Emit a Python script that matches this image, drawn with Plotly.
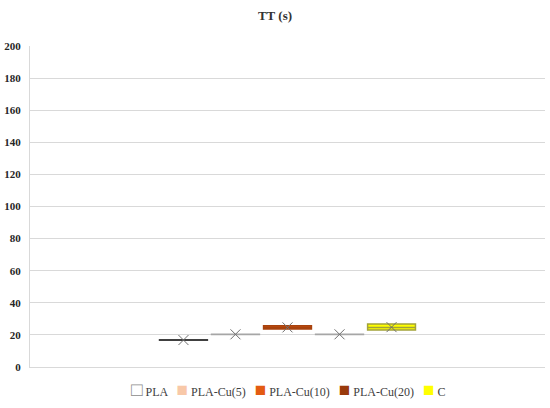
import plotly.graph_objects as go

# Donnees
series = ["PLA", "PLA-Cu(5)", "PLA-Cu(10)", "PLA-Cu(20)", "C"]
pla = [16.6, 16.7, 16.8, 16.9, 17.0]
pla_cu5 = [20.2, 20.3, 20.4, 20.4, 20.5]
pla_cu10 = [23.6, 23.8, 24.6, 25.6, 25.8]
pla_cu20 = [20.2, 20.3, 20.4, 20.4, 20.5]
carbone = [22.9, 23.1, 24.6, 26.7, 26.9]
valeurs = [pla, pla_cu5, pla_cu10, pla_cu20, carbone]

remplissage = ["#ffffff", "#f8c8a8", "#e35b12", "#993a0c", "#ffff00"]
contour = ["#404040", "#a6a6a6", "#a8420d", "#a6a6a6", "#a3a33a"]

police = "Liberation Serif"

fig = go.Figure()
for i, (nom, v) in enumerate(zip(series, valeurs)):
    fig.add_trace(go.Box(
        y=v, x=[i] * len(v), name=nom, width=0.92,
        fillcolor=remplissage[i], line=dict(color=contour[i], width=1.5),
        boxpoints=False, whiskerwidth=0, hoverinfo="y", showlegend=False))
    # moyenne en croix, comme dans Excel
    fig.add_trace(go.Scatter(
        x=[i], y=[sum(v) / len(v)], mode="markers", showlegend=False,
        marker=dict(symbol="x-thin-open", size=10, color="#707070",
                    line=dict(color="#707070", width=1))))

# legende faite a la main (carres serres comme dans Excel)
morceaux = []
for nom, c in zip(series, remplissage):
    if c == "#ffffff":
        carre = '<span style="color:#8c8c8c;font-size:19px">□</span>'
    else:
        carre = '<span style="color:%s;font-size:19px">■</span>' % c
    morceaux.append(carre + " " + nom)
legende = "   ".join(morceaux)

fig.update_layout(
    width=550, height=408,
    paper_bgcolor="white", plot_bgcolor="white",
    font=dict(family=police, size=12, color="#404040"),
    title=dict(text="<b>TT (s)</b>", x=0.5, xanchor="center", y=0.963, yanchor="middle",
               font=dict(family=police, size=13, color="#333333")),
    margin=dict(l=30, r=5, t=46, b=41),
    showlegend=False,
    annotations=[dict(text=legende, xref="paper", yref="paper", x=0.5, y=-0.07,
                      xanchor="center", yanchor="middle", showarrow=False,
                      font=dict(family=police, size=12, color="#404040"))],
)
fig.update_xaxes(range=[-2.95, 6.95], showticklabels=False, showgrid=False,
                 zeroline=False, showline=True, linecolor="#d9d9d9", linewidth=1)
fig.update_yaxes(range=[0, 200], dtick=20, showgrid=True, gridcolor="#d9d9d9", gridwidth=1,
                 zeroline=False, showline=True, linecolor="#d9d9d9", automargin=False,
                 tickfont=dict(family=police, size=11, color="#262626", weight="bold"),
                 ticks="", ticklabelstandoff=6)

fig.write_html("out.html", config={"displayModeBar": False},
               post_script="document.body.style.margin='0';")
